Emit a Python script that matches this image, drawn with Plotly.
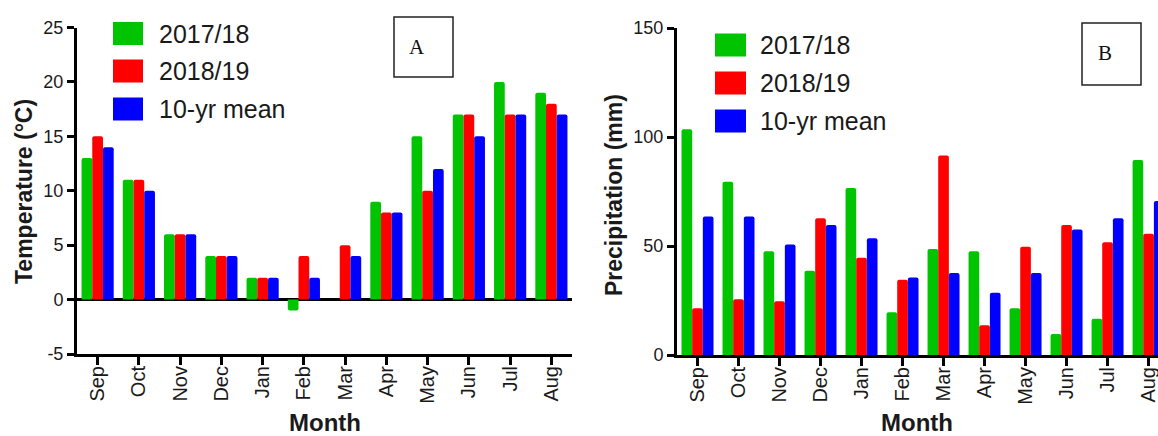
import plotly.graph_objects as go

months = ["Sep", "Oct", "Nov", "Dec", "Jan", "Feb", "Mar", "Apr", "May", "Jun", "Jul", "Aug"]
series_names = ["2017/18", "2018/19", "10-yr mean"]
series_colors = ["#00C400", "#FF0000", "#0000FF"]

temp_2017_18 = [13, 11, 6, 4, 2, -1, 0, 9, 15, 17, 20, 19]
temp_2018_19 = [15, 11, 6, 4, 2, 4, 5, 8, 10, 17, 17, 18]
temp_10yr = [14, 10, 6, 4, 2, 2, 4, 8, 12, 15, 17, 17]

prec_2017_18 = [103.5, 79.5, 47.6, 38.6, 76.6, 19.6, 48.6, 47.6, 21.4, 9.6, 16.6, 89.5]
prec_2018_19 = [21.4, 25.6, 24.6, 62.7, 44.6, 34.5, 91.5, 13.7, 49.6, 59.6, 51.7, 55.6]
prec_10yr = [63.5, 63.5, 50.7, 59.6, 53.6, 35.6, 37.6, 28.6, 37.6, 57.6, 62.7, 70.6]

temp_ticks = [-5, 0, 5, 10, 15, 20, 25]
temp_tick_labels = ["-5", "0", "5", "10", "15", "20", "25"]
prec_ticks = [0, 50, 100, 150]
prec_tick_labels = ["0", "50", "100", "150"]

W, H = 1158, 436
FONT = "Arial, Liberation Sans, sans-serif"
TXT = "#1a1a1a"

fig = go.Figure()
for name, color, vals in zip(series_names, series_colors, [temp_2017_18, temp_2018_19, temp_10yr]):
    fig.add_trace(go.Bar(x=months, y=vals, name=name, marker=dict(color=color, line=dict(width=0)),
                         xaxis="x", yaxis="y", showlegend=False, hoverinfo="skip"))
for name, color, vals in zip(series_names, series_colors, [prec_2017_18, prec_2018_19, prec_10yr]):
    fig.add_trace(go.Bar(x=months, y=vals, name=name, marker=dict(color=color, line=dict(width=0)),
                         xaxis="x2", yaxis="y2", showlegend=False, hoverinfo="skip"))

def px_x(p):
    return p / W

def px_y(p):
    return 1 - p / H

axis_common = dict(showline=True, linecolor="black", linewidth=3, ticks="outside",
                   tickcolor="black", tickwidth=3, showgrid=False, zeroline=False,
                   automargin=False,
                   tickfont=dict(family=FONT, size=18, color=TXT))

xcommon = dict(axis_common, type="category", tickangle=-90, ticklen=8, ticklabelstandoff=-7,
               tickfont=dict(family=FONT, size=20, color=TXT))

fig.update_layout(
    template="none",
    width=W, height=H,
    margin=dict(l=0, r=0, t=0, b=0, pad=0, autoexpand=False),
    paper_bgcolor="white", plot_bgcolor="white",
    barmode="group", bargap=0.22, bargroupgap=0, barcornerradius=2,
    showlegend=False,
    xaxis=dict(xcommon, domain=[px_x(77), px_x(572)], range=[-0.5, 11.5], anchor="y"),
    yaxis=dict(axis_common, domain=[px_y(354), px_y(27.5)], range=[-5, 25],
               tickvals=temp_ticks, ticktext=temp_tick_labels,
               ticklen=7, zeroline=True, zerolinecolor="black", zerolinewidth=3, anchor="x"),
    xaxis2=dict(xcommon, domain=[px_x(677), 1.0], range=[-0.5, 11.23], anchor="y2"),
    yaxis2=dict(axis_common, domain=[px_y(355), px_y(28)], range=[0, 150],
                tickvals=prec_ticks, ticktext=prec_tick_labels,
                ticklen=7, anchor="x2"),
)

annotations = []
shapes = []

# axis titles
annotations.append(dict(x=px_x(24), y=px_y(192), xref="paper", yref="paper", text="<b>Temperature (°C)</b>",
                        textangle=-90, showarrow=False, font=dict(family=FONT, size=23, color=TXT),
                        xanchor="center", yanchor="middle"))
annotations.append(dict(x=px_x(614), y=px_y(195), xref="paper", yref="paper", text="<b>Precipitation (mm)</b>",
                        textangle=-90, showarrow=False, font=dict(family=FONT, size=23, color=TXT),
                        xanchor="center", yanchor="middle"))
annotations.append(dict(x=px_x(325), y=px_y(422), xref="paper", yref="paper", text="<b>Month</b>",
                        showarrow=False, font=dict(family=FONT, size=24, color=TXT),
                        xanchor="center", yanchor="middle"))
annotations.append(dict(x=px_x(917), y=px_y(422), xref="paper", yref="paper", text="<b>Month</b>",
                        showarrow=False, font=dict(family=FONT, size=24, color=TXT),
                        xanchor="center", yanchor="middle"))

# manual legends
for (sx0, sx1, tx, centers) in [(113, 143, 157, [33.5, 71, 109]), (715, 746, 758, [45, 83, 121])]:
    for name, color, cy in zip(series_names, series_colors, centers):
        shapes.append(dict(type="rect", xref="paper", yref="paper",
                           x0=px_x(sx0), x1=px_x(sx1), y0=px_y(cy + 11.5), y1=px_y(cy - 11.5),
                           fillcolor=color, line=dict(width=0)))
        annotations.append(dict(x=px_x(tx), y=px_y(cy), xref="paper", yref="paper", text=name,
                                showarrow=False, font=dict(family=FONT, size=25, color=TXT),
                                xanchor="left", yanchor="middle"))

# panel label boxes
for (x0, x1, y0, y1, lx, ly, lab) in [(394, 453, 17, 77, 417, 47, "A"), (1082, 1141, 23, 85, 1105, 53, "B")]:
    shapes.append(dict(type="rect", xref="paper", yref="paper",
                       x0=px_x(x0), x1=px_x(x1), y0=px_y(y1), y1=px_y(y0),
                       fillcolor="white", line=dict(color="#222", width=1.5)))
    annotations.append(dict(x=px_x(lx), y=px_y(ly), xref="paper", yref="paper", text=lab,
                            showarrow=False, font=dict(family="Liberation Serif, Times New Roman, serif",
                                                       size=21, color="#111"),
                            xanchor="center", yanchor="middle"))

fig.update_layout(annotations=annotations, shapes=shapes)
fig.write_html("out.html", config={"displayModeBar": False},
               post_script="document.body.style.margin='0px';document.body.style.padding='0px';"
                           "document.body.style.overflow='hidden';")
